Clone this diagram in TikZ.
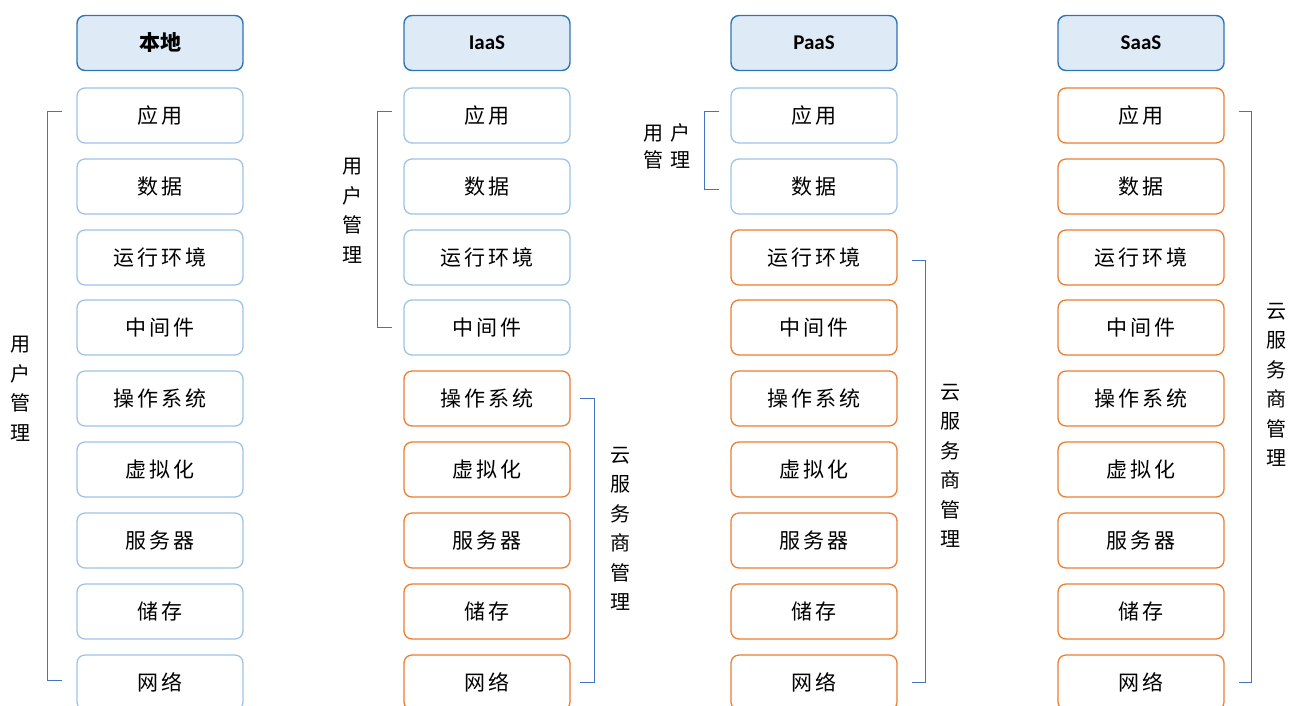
\documentclass[tikz,border=0pt]{standalone}
\usepackage{fontspec}
\setmainfont{Noto Sans CJK SC}
\newfontfamily\hdlat{Carlito}
\newfontfamily\boxfont[LetterSpace=15]{Noto Sans CJK SC}
\newfontfamily\pairfont[LetterSpace=35]{Noto Sans CJK SC}
\usetikzlibrary{calc}
\definecolor{lblue}{HTML}{9DC3E6}
\definecolor{orng}{HTML}{ED7D31}
\definecolor{hfill}{HTML}{DEEBF7}
\definecolor{hdraw}{HTML}{2E75B6}
\definecolor{brk}{HTML}{4472C4}
\begin{document}
\begin{tikzpicture}[x=1pt,y=-1pt,
 box/.style={draw, rounded corners=8pt, minimum width=166pt, minimum height=55pt, line width=1.3pt, inner sep=0pt, font=\boxfont\fontsize{21}{21}\selectfont},
 ubox/.style={box, draw=lblue},
 obox/.style={box, draw=orng},
 hbox/.style={box, draw=hdraw, fill=hfill, line width=1.4pt},
 brace/.style={draw=brk, line width=0.9pt},
 vlab/.style={align=center, inner sep=0pt, font=\fontsize{20}{29.5}\selectfont}]
\useasboundingbox (0,0) rectangle (1289,705);
\node[hbox, font=\fontsize{21}{21}\selectfont\bfseries] (h1) at (160,43) {本地};
\node[hbox, font=\fontsize{21}{21}\selectfont\hdlat\bfseries] (h2) at (487,43) {IaaS};
\node[hbox, font=\fontsize{21}{21}\selectfont\hdlat\bfseries] (h3) at (814,43) {PaaS};
\node[hbox, font=\fontsize{21}{21}\selectfont\hdlat\bfseries] (h4) at (1141,43) {SaaS};
\foreach \c/\x/\k in {1/160/10, 2/487/5, 3/814/3, 4/1141/1} {
  \foreach \r/\y/\t in {1/115.5/应用, 2/186.5/数据, 3/257.5/运行环境, 4/327.5/中间件, 5/398.5/操作系统, 6/469.5/虚拟化, 7/540.5/服务器, 8/611.5/储存, 9/682.5/网络} {
    \ifnum\r<\k
      \node[ubox] (b\c-\r) at (\x,\y) {\t};
    \else
      \node[obox] (b\c-\r) at (\x,\y) {\t};
    \fi
  }
}
% user-managed brackets
\draw[brace] ([xshift=-14pt,yshift=4pt]b1-1.west) -- ++(-15,0) |- ([xshift=-14pt,yshift=2pt]b1-9.west);
\node[vlab] (l1) at (20,389) {用\\户\\管\\理};
\draw[brace] ([xshift=-11pt,yshift=4pt]b2-1.west) -- ++(-15,0) |- ([xshift=-11pt]b2-4.west);
\node[vlab] (l2) at (352,211) {用\\户\\管\\理};
\draw[brace] ([xshift=-11pt,yshift=4pt]b3-1.west) -- ++(-15,0) |- ([xshift=-11pt,yshift=-3pt]b3-2.west);
\node[vlab, font=\pairfont\fontsize{20}{27}\selectfont] (l3) at (667,146) {用户\\管理};
% provider-managed brackets
\draw[brace] ([xshift=9pt]b2-5.east) -- ++(15,0) |- ([xshift=9pt]b2-9.east);
\node[vlab] (r2) at (620,529) {云\\服\\务\\商\\管\\理};
\draw[brace] ([xshift=14pt,yshift=-3pt]b3-3.east) -- ++(14,0) |- ([xshift=14pt]b3-9.east);
\node[vlab] (r3) at (950,466) {云\\服\\务\\商\\管\\理};
\draw[brace] ([xshift=14pt,yshift=4pt]b4-1.east) -- ++(13,0) |- ([xshift=14pt]b4-9.east);
\node[vlab] (r4) at (1276,385) {云\\服\\务\\商\\管\\理};
\end{tikzpicture}
\end{document}
